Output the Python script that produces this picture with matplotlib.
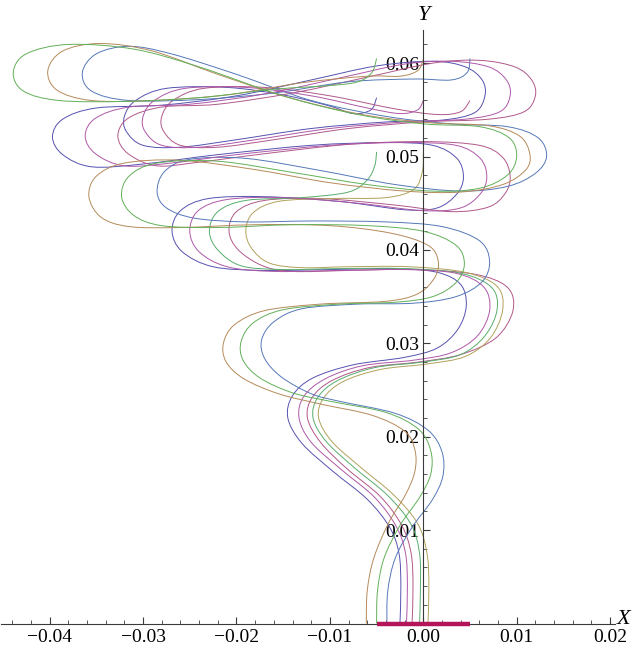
import numpy as np
import matplotlib
matplotlib.use("Agg")
import matplotlib.pyplot as plt
from matplotlib.path import Path
from matplotlib.patches import PathPatch
from matplotlib.ticker import FixedLocator, FuncFormatter

plt.rcParams['font.family'] = ['Liberation Serif', 'DejaVu Serif']

# trajectory points, (x, y) in units of 1e-3
orange = [(-6.1, 0.0), (-6.0, 3.5), (-5.3, 7.0), (-3.7, 10.8), (-1.9, 13.8), (-0.9, 16.3), (-0.9, 18.6),
          (-2.0, 20.6), (-5.5, 22.3), (-11.0, 23.5), (-15.5, 24.6), (-19.2, 26.2), (-21.1, 28.0), (-21.4, 30.0),
          (-20.2, 32.0), (-17.0, 33.5), (-11.0, 34.2), (-4.0, 34.5), (-0.6, 35.3), (1.2, 37.0), (1.6, 38.8),
          (0.5, 40.5), (-3.5, 41.8), (-10.0, 42.6), (-18.0, 42.7), (-26.0, 42.4), (-31.5, 42.5), (-34.5, 43.5),
          (-35.8, 45.7), (-35.0, 47.9), (-32.0, 49.3), (-26.0, 49.6), (-18.0, 48.6), (-10.0, 47.2), (-2.0, 46.3),
          (4.0, 46.2), (8.5, 47.0), (11.0, 48.6), (11.4, 50.3), (10.3, 52.2), (7.0, 53.3), (1.0, 53.6),
          (-6.0, 54.4), (-14.0, 56.2), (-22.0, 58.8), (-29.0, 61.3), (-34.6, 62.1), (-38.6, 61.3), (-40.2, 59.2),
          (-39.2, 57.1), (-35.5, 56.0), (-29.0, 56.0), (-21.0, 56.6), (-13.0, 57.9), (-6.0, 58.6), (-2.5, 58.6),
          (-0.6, 59.2), (0.0, 60.4)]

green = [(-5.0, 0.0), (-4.9, 3.5), (-4.2, 7.0), (-2.5, 10.5), (-0.4, 13.5), (0.8, 16.0), (0.8, 18.5),
         (-0.5, 20.8), (-4.0, 22.6), (-10.0, 23.8), (-14.0, 24.7), (-17.5, 26.3), (-19.3, 28.2), (-19.5, 30.2),
         (-18.2, 32.2), (-15.0, 33.6), (-9.0, 34.2), (-3.0, 34.4), (1.0, 35.0), (3.5, 36.5), (4.4, 38.5),
         (3.5, 40.5), (0.0, 42.0), (-6.0, 42.6), (-14.0, 42.7), (-22.0, 42.4), (-28.0, 42.6), (-31.0, 43.7),
         (-32.3, 45.7), (-31.5, 47.9), (-28.5, 49.3), (-22.0, 49.5), (-14.0, 48.3), (-6.0, 47.0), (1.0, 46.3),
         (6.0, 46.6), (9.0, 48.0), (10.0, 50.0), (9.2, 52.0), (6.0, 53.2), (0.0, 53.5), (-7.0, 54.5),
         (-15.0, 56.5), (-24.0, 59.6), (-31.0, 61.5), (-38.0, 62.0), (-42.5, 61.0), (-43.9, 59.0), (-42.8, 57.0),
         (-39.0, 56.0), (-32.0, 55.9), (-24.0, 56.3), (-16.0, 57.2), (-10.0, 57.6), (-7.0, 58.0), (-5.5, 59.0),
         (-5.0, 60.5)]

blue = [(-3.9, 0.0), (-3.8, 3.5), (-3.0, 7.0), (-1.2, 10.3), (1.0, 13.3), (2.1, 15.8), (2.0, 18.4),
        (0.5, 20.7), (-3.0, 22.5), (-9.0, 23.8), (-12.0, 24.6), (-15.2, 26.4), (-17.0, 28.4), (-17.3, 30.4),
        (-16.0, 32.3), (-13.0, 33.7), (-7.0, 34.2), (-1.0, 34.3), (3.5, 35.0), (6.3, 36.6), (7.1, 38.8),
        (6.0, 41.0), (2.0, 42.5), (-4.0, 43.0), (-12.0, 43.1), (-19.0, 43.0), (-24.5, 43.4), (-27.5, 44.5),
        (-28.5, 46.2), (-27.7, 48.4), (-25.0, 49.7), (-19.0, 49.8), (-11.0, 48.5), (-3.0, 47.0), (4.0, 46.3),
        (9.0, 46.8), (12.0, 48.2), (13.2, 50.0), (12.3, 52.0), (9.0, 53.2), (3.0, 53.5), (-4.0, 54.3),
        (-12.0, 56.0), (-20.0, 58.8), (-27.0, 61.0), (-31.5, 61.8), (-35.0, 61.0), (-36.5, 59.0), (-35.5, 57.0),
        (-31.5, 56.0), (-24.0, 56.1), (-16.0, 56.8), (-8.0, 58.0), (-1.0, 58.3), (3.0, 58.2), (4.7, 59.0),
        (5.0, 60.5)]

violet = [(-2.5, 0.0), (-2.4, 4.0), (-2.6, 7.5), (-3.6, 10.3), (-6.0, 13.3), (-9.8, 16.4), (-13.0, 19.3),
          (-14.5, 22.0), (-14.0, 24.4), (-11.8, 26.3), (-7.5, 27.7), (-2.0, 28.5), (1.5, 29.5), (3.7, 31.5),
          (4.6, 34.0), (4.0, 36.3), (1.5, 37.6), (-3.0, 38.0), (-10.0, 37.9), (-17.0, 37.8), (-22.5, 38.2),
          (-25.8, 39.8), (-26.9, 42.0), (-26.0, 44.2), (-23.0, 45.5), (-17.0, 45.7), (-9.0, 45.2), (-2.0, 44.3),
          (1.5, 44.5), (3.6, 46.0), (4.3, 47.8), (3.6, 49.8), (1.0, 51.2), (-4.0, 51.5), (-12.0, 51.2),
          (-22.0, 50.2), (-30.0, 49.2), (-35.5, 48.9), (-38.6, 50.2), (-39.7, 52.1), (-38.6, 54.0), (-35.0, 55.2),
          (-28.0, 55.5), (-20.0, 56.5), (-12.0, 58.2), (-5.0, 59.7), (1.0, 60.2), (4.5, 59.6), (6.3, 58.2),
          (6.6, 56.5), (5.5, 54.7), (2.0, 53.9), (-4.0, 53.7), (-12.0, 53.0), (-20.0, 51.8), (-26.0, 51.0),
          (-30.0, 51.2), (-31.8, 52.7), (-32.0, 54.3), (-30.8, 56.0), (-27.5, 57.3), (-21.0, 57.4), (-15.0, 56.6),
          (-10.0, 55.4), (-7.5, 54.6), (-5.6, 55.0), (-5.0, 56.3)]

purple = [(-1.8, 0.0), (-1.7, 4.0), (-1.9, 7.5), (-2.9, 10.4), (-5.2, 13.5), (-8.8, 16.5), (-12.0, 19.4),
          (-13.3, 22.0), (-12.8, 24.3), (-10.5, 26.2), (-6.5, 27.6), (-1.0, 28.2), (3.0, 29.0), (5.8, 30.8),
          (7.1, 33.5), (6.5, 36.0), (3.5, 37.5), (-2.0, 37.9), (-9.0, 37.8), (-16.0, 37.7), (-21.0, 38.2),
          (-24.0, 39.8), (-25.0, 42.0), (-24.1, 44.2), (-21.0, 45.4), (-15.0, 45.6), (-7.0, 45.0), (0.0, 44.2),
          (4.0, 44.5), (6.1, 46.0), (6.8, 47.8), (6.1, 49.8), (3.5, 51.2), (-2.0, 51.5), (-10.0, 51.2),
          (-20.0, 50.2), (-27.0, 49.3), (-32.0, 49.0), (-35.1, 50.3), (-36.2, 52.2), (-35.1, 54.1), (-31.5, 55.3),
          (-25.0, 55.6), (-17.0, 56.7), (-9.0, 58.4), (-2.0, 59.9), (3.0, 60.2), (7.0, 59.6), (8.9, 58.2),
          (9.3, 56.5), (8.2, 54.8), (4.5, 54.0), (-2.0, 53.7), (-10.0, 53.0), (-18.0, 51.8), (-24.0, 51.0),
          (-28.0, 51.2), (-29.8, 52.7), (-30.0, 54.3), (-28.8, 56.0), (-25.5, 57.3), (-19.0, 57.4), (-12.0, 56.5),
          (-6.0, 55.2), (-2.5, 54.6), (-0.6, 55.0), (0.0, 56.0)]

magenta = [(-1.2, 0.0), (-1.1, 4.0), (-1.3, 7.5), (-2.3, 10.5), (-4.6, 13.6), (-8.2, 16.6), (-11.0, 19.4),
           (-12.4, 22.0), (-11.9, 24.2), (-9.8, 26.0), (-5.8, 27.4), (-0.5, 28.0), (4.0, 28.8), (7.8, 30.6),
           (9.6, 33.5), (9.0, 36.0), (5.5, 37.4), (-1.0, 37.9), (-8.0, 37.8), (-14.0, 37.7), (-17.2, 38.3),
           (-19.8, 40.0), (-20.8, 42.0), (-20.0, 44.1), (-17.0, 45.3), (-11.0, 45.5), (-3.0, 44.8), (3.0, 44.1),
           (7.0, 44.6), (8.8, 46.1), (9.3, 47.9), (8.5, 49.9), (6.0, 51.2), (0.0, 51.6), (-8.0, 51.3),
           (-17.0, 50.3), (-24.0, 49.4), (-28.5, 49.0), (-31.6, 50.3), (-32.7, 52.2), (-31.6, 54.1), (-28.0, 55.3),
           (-22.0, 55.6), (-14.0, 56.8), (-6.0, 58.5), (1.0, 60.0), (6.0, 60.3), (9.8, 59.6), (11.6, 58.2),
           (12.0, 56.5), (10.8, 54.8), (7.0, 54.0), (0.0, 53.7), (-8.0, 53.0), (-16.0, 51.8), (-22.0, 51.0),
           (-26.0, 51.2), (-27.8, 52.7), (-28.0, 54.3), (-26.8, 56.0), (-23.5, 57.3), (-17.0, 57.4), (-10.0, 56.5),
           (-3.0, 55.1), (1.5, 54.5), (4.0, 54.8), (5.0, 56.0)]

grass = [(-0.4, 0.0), (-0.3, 4.0), (-0.4, 7.5), (-1.3, 10.6), (-3.8, 13.7), (-7.4, 16.7), (-10.4, 19.5),
         (-11.8, 22.0), (-11.3, 24.2), (-9.2, 26.0), (-5.2, 27.4), (0.0, 28.0), (4.0, 28.8), (6.6, 30.8),
         (7.9, 33.6), (7.3, 36.0), (4.0, 37.5), (-2.0, 38.0), (-9.0, 38.0), (-15.0, 37.9), (-19.5, 38.3),
         (-22.0, 40.0), (-22.9, 42.0), (-22.0, 44.1), (-19.0, 45.3), (-13.0, 45.6), (-8.0, 46.2), (-6.0, 47.5),
         (-5.2, 49.0), (-5.0, 50.5)]

olive = [(0.5, 0.0), (0.6, 4.0), (0.4, 7.5), (-0.6, 10.7), (-3.2, 13.8), (-6.8, 16.8), (-9.8, 19.5),
         (-11.2, 22.0), (-10.7, 24.1), (-8.6, 25.9), (-4.6, 27.2), (0.5, 27.8), (4.5, 28.6), (7.2, 30.6),
         (8.5, 33.6), (7.9, 36.1), (4.5, 37.6), (-1.5, 38.2), (-8.0, 38.2), (-13.0, 38.1), (-16.5, 38.6),
         (-18.4, 40.2), (-19.0, 42.1), (-18.2, 44.0), (-15.5, 45.2), (-10.0, 45.5), (-4.0, 45.6), (-1.0, 46.5),
         (-0.1, 48.4), (0.0, 50.3)]

curves = [(violet, '#5552b0'), (magenta, '#b0588a'), (olive, '#b0a25a'), (grass, '#58ad6c'),
          (blue, '#5578b8'), (purple, '#ae58a8'), (orange, '#b58a5a'), (green, '#62b058')]

# source strip on the floor
strip_x = [-0.005, 0.005]
strip_y = [0.0, 0.0]


def smooth_path(points):
    # Catmull-Rom through the points, handed to matplotlib as cubic Bezier segments
    p = np.array(points, dtype=float) * 1e-3
    n = len(p)
    verts = [p[0]]
    codes = [Path.MOVETO]
    for i in range(n - 1):
        p0 = p[max(i - 1, 0)]
        p1 = p[i]
        p2 = p[i + 1]
        p3 = p[min(i + 2, n - 1)]
        verts += [p1 + (p2 - p0) / 6, p2 - (p3 - p1) / 6, p2]
        codes += [Path.CURVE4] * 3
    return Path(verts, codes)


fig = plt.figure(figsize=(6.41, 6.45), dpi=100)
ax = fig.add_axes([0, 0, 1, 1])
ax.set_xlim(-0.04532, 0.02331)
ax.set_ylim(-0.0023, 0.06676)

for pts, col in curves:
    ax.add_patch(PathPatch(smooth_path(pts), fill=False, edgecolor=col, lw=0.7, zorder=2))

ax.plot(strip_x, strip_y, color='#b3145a', lw=3.2, solid_capstyle='butt', zorder=3)

# Mathematica-style axes crossing at the origin
for s in ['top', 'right']:
    ax.spines[s].set_visible(False)
ax.spines['left'].set_position(('data', 0))
ax.spines['bottom'].set_position(('data', 0))
ax.spines['left'].set_bounds(0, 0.0635)
ax.spines['bottom'].set_bounds(-0.0452, 0.0205)
for s in ['left', 'bottom']:
    ax.spines[s].set_color('#3a3a3a')
    ax.spines[s].set_linewidth(0.8)

ax.xaxis.set_major_locator(FixedLocator([-0.04, -0.03, -0.02, -0.01, 0.0, 0.01, 0.02]))
ax.xaxis.set_minor_locator(FixedLocator(np.arange(-0.044, 0.0201, 0.002)))
ax.yaxis.set_major_locator(FixedLocator([0.01, 0.02, 0.03, 0.04, 0.05, 0.06]))
ax.yaxis.set_minor_locator(FixedLocator(np.arange(0.002, 0.0625, 0.002)))


def fmt(v, pos):
    if abs(v) < 1e-9:
        v = 0.0
    return f"{v:.2f}".replace('-', '\u2212')


ax.xaxis.set_major_formatter(FuncFormatter(fmt))
ax.yaxis.set_major_formatter(FuncFormatter(fmt))
ax.tick_params(which='major', direction='in', length=5, width=0.8, color='#3a3a3a', labelsize=14, pad=4)
ax.tick_params(which='minor', direction='in', length=3, width=0.6, color='#3a3a3a')
ax.tick_params(axis='y', pad=3)

ax.text(0.0207, 0.0004, 'X', fontsize=16, fontstyle='italic', ha='left', va='center')
ax.text(0.0001, 0.0651, 'Y', fontsize=16, fontstyle='italic', ha='center', va='center')

fig.savefig('out.png', dpi=100)
